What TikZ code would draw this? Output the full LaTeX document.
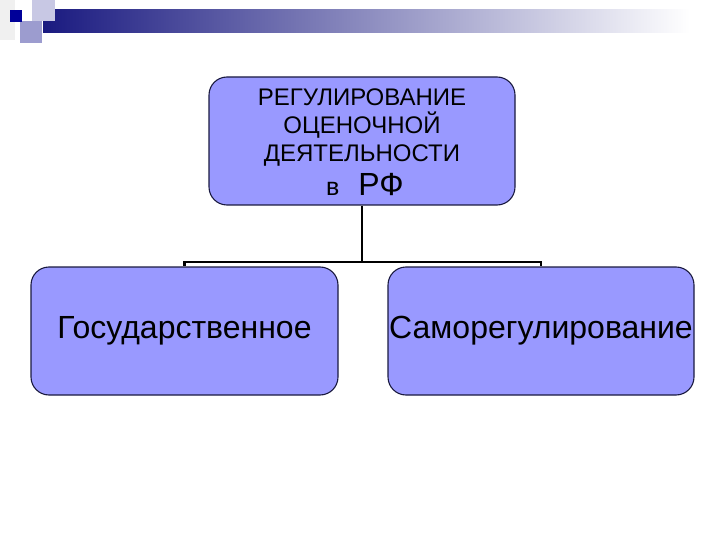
\documentclass[tikz,border=0pt]{standalone}
\usepackage{fontspec}
\setmainfont{Liberation Sans}
\definecolor{boxfill}{HTML}{9999FF}
\definecolor{boxline}{HTML}{1A1A40}
\definecolor{navy}{HTML}{1A1A80}
\definecolor{lav}{HTML}{9C9CCF}
\definecolor{lavlight}{HTML}{C8C8E4}
\definecolor{darkblue}{HTML}{000099}
\begin{document}
\begin{tikzpicture}[x=1pt,y=-1pt,
  box/.style={draw=boxline, line width=1.1pt, fill=boxfill, rounded corners=18pt, inner sep=0pt},
  conn/.style={draw=black, line width=2.4pt},
  toptext/.style={font=\fontsize{24}{27}\selectfont, anchor=base, inner sep=0pt}]
\useasboundingbox (0,0) rectangle (720,540);
% header decoration
\fill[gray!12] (0,0) rectangle (15,40);
\shade[left color=navy, right color=white] (43,10) rectangle (690,33);
\fill[lavlight] (32,0) rectangle (55,21);
\fill[lav] (20,21) rectangle (42,43);
\fill[darkblue] (10,10) rectangle (22,22);
% boxes
\node[box, minimum width=306pt, minimum height=128pt] (top) at (362,141) {};
\node[box, minimum width=307pt, minimum height=128pt, font=\fontsize{32}{36}\selectfont] (left) at (184.5,331) {Государственное};
\node[box, minimum width=306pt, minimum height=128pt, font=\fontsize{32}{36}\selectfont] (right) at (541,331) {Саморегулирование};
% top text
\node[toptext] (t1) at (362,106) {РЕГУЛИРОВАНИЕ};
\node[toptext] (t2) at (362,134) {ОЦЕНОЧНОЙ};
\node[toptext] (t3) at (362,162) {ДЕЯТЕЛЬНОСТИ};
\node[toptext] (t4) at (365,196) {\fontsize{25}{28}\selectfont в\hspace{19pt}\fontsize{32}{36}\selectfont РФ};
% connectors
\coordinate (j) at (362,262);
\draw[conn] (top.south) -- (j);
\draw[conn] (j) -| (left.north);
\draw[conn] (j) -| (right.north);
\end{tikzpicture}
\end{document}
